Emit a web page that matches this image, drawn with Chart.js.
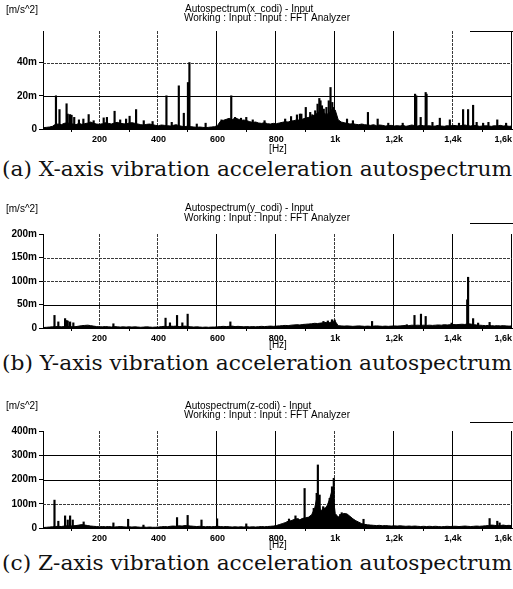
<!DOCTYPE html>
<html>
<head>
<meta charset="utf-8">
<script src="https://cdn.jsdelivr.net/npm/chart.js@4.4.1/dist/chart.umd.min.js"></script>
<style>
  body { margin: 0; background: #fff; width: 513px; height: 589px; position: relative; overflow: hidden; }
  canvas { position: absolute; left: 0; }
  .caption {
    position: absolute; left: 2px; font-family: "DejaVu Serif", serif; font-size: 20px;
    line-height: 20px; white-space: nowrap; transform-origin: 0 50%; color: #111;
  }
</style>
</head>
<body>
<canvas id="chartX" width="513" height="155" style="top:0px"></canvas>
<div class="caption" style="top:159px">(a) X-axis vibration acceleration autospectrum</div>
<canvas id="chartY" width="513" height="155" style="top:195px"></canvas>
<div class="caption" style="top:353px">(b) Y-axis vibration acceleration autospectrum</div>
<canvas id="chartZ" width="513" height="160" style="top:390px"></canvas>
<div class="caption" style="top:553px">(c) Z-axis vibration acceleration autospectrum</div>
<script>
// frequency bins of the noise floor [Hz]
const freqs = [
  10, 20, 30, 40, 50, 60, 70, 80, 90, 100,
  110, 120, 130, 140, 150, 160, 170, 180, 190, 200,
  210, 220, 230, 240, 250, 260, 270, 280, 290, 300,
  310, 320, 330, 340, 350, 360, 370, 380, 390, 400,
  410, 420, 430, 440, 450, 460, 470, 480, 490, 500,
  510, 520, 530, 540, 550, 560, 570, 580, 590, 600,
  610, 620, 630, 640, 650, 660, 670, 680, 690, 700,
  710, 720, 730, 740, 750, 760, 770, 780, 790, 800,
  810, 820, 830, 840, 850, 860, 870, 880, 890, 900,
  910, 920, 930, 940, 950, 960, 970, 980, 990, 1000,
  1010, 1020, 1030, 1040, 1050, 1060, 1070, 1080, 1090, 1100,
  1110, 1120, 1130, 1140, 1150, 1160, 1170, 1180, 1190, 1200,
  1210, 1220, 1230, 1240, 1250, 1260, 1270, 1280, 1290, 1300,
  1310, 1320, 1330, 1340, 1350, 1360, 1370, 1380, 1390, 1400,
  1410, 1420, 1430, 1440, 1450, 1460, 1470, 1480, 1490, 1500,
  1510, 1520, 1530, 1540, 1550, 1560, 1570, 1580, 1590, 1600,
];

// noise floor, m/s^2 x 1e-3
const floorX = [
  0.8, 1.0, 1.2, 1.6, 2.8, 3.0, 2.6, 3.4, 3.8, 3.2,
  3.0, 2.6, 3.4, 2.8, 3.2, 3.6, 4.2, 3.4, 3.0, 2.8,
  3.2, 3.8, 3.4, 3.0, 3.6, 4.0, 3.4, 3.2, 3.0, 3.6,
  3.8, 3.4, 3.0, 2.6, 2.4, 2.8, 3.0, 2.6, 2.2, 2.0,
  2.4, 2.2, 2.0, 1.8, 2.2, 2.6, 2.0, 1.6, 1.4, 1.8,
  1.4, 1.2, 1.0, 1.2, 1.0, 0.8, 1.0, 1.2, 1.4, 2.0,
  4.6, 5.2, 5.8, 6.4, 5.6, 6.6, 6.0, 5.2, 5.4, 5.0,
  4.4, 4.0, 4.2, 3.6, 3.4, 3.8, 3.2, 3.0, 3.4, 3.2,
  3.6, 4.0, 4.4, 4.2, 4.8, 5.0, 5.6, 5.2, 6.0, 6.6,
  7.0, 7.6, 8.4, 9.6, 11.0, 10.0, 8.6, 9.8, 12.0, 11.4,
  5.6, 4.2, 3.8, 3.4, 3.0, 3.2, 2.8, 2.6, 3.0, 2.6,
  2.4, 2.2, 2.6, 2.0, 2.4, 2.2, 1.8, 2.0, 2.2, 1.8,
  2.0, 1.8, 2.2, 1.6, 2.0, 2.4, 2.0, 1.8, 2.2, 2.0,
  1.8, 2.0, 1.6, 1.8, 2.2, 1.8, 1.6, 2.0, 1.8, 2.2,
  2.0, 1.8, 2.2, 2.4, 2.0, 1.8, 2.2, 2.0, 1.6, 1.8,
  2.0, 1.8, 1.6, 2.0, 1.8, 2.2, 1.8, 2.0, 1.6, 1.8,
];
const floorY = [
  1, 1.5, 2, 2.5, 3, 3, 2.5, 3, 3.5, 3,
  2.5, 3, 4, 5, 5.5, 6, 5, 4, 3, 2.5,
  2.5, 3, 2.5, 2, 3, 2.5, 2, 2.5, 2, 2.5,
  2, 2.5, 2, 1.5, 2, 2.5, 2, 1.5, 2, 2,
  3, 3.5, 3, 4, 3.5, 4, 3, 3.5, 4, 3,
  2.5, 2, 2.5, 2, 1.5, 2, 1.5, 2, 2, 2.5,
  3, 3.5, 3, 3.5, 4, 3, 3.5, 3, 2.5, 3,
  2.5, 3, 2.5, 3, 3.5, 3, 3.5, 4, 3.5, 4,
  4.5, 5, 5.5, 5, 6, 6.5, 7, 6.5, 7.5, 8,
  8.5, 9, 10, 9.5, 10.5, 11, 12, 11.5, 13, 14,
  5, 4.5, 4, 4.5, 4, 3.5, 4, 4.5, 4, 3.5,
  4, 3.5, 4, 4.5, 4, 3.5, 4, 3.5, 4, 4.5,
  4, 4.5, 5, 5.5, 5, 6, 5.5, 6, 5.5, 6,
  5.5, 6, 5.5, 6, 6.5, 6, 7, 6.5, 7, 7.5,
  7, 7.5, 8, 7.5, 9, 8.5, 7, 6.5, 6, 5.5,
  5, 5.5, 5, 4.5, 5, 4.5, 5, 4.5, 4, 4.5,
];
const floorZ = [
  2, 3, 4, 5, 6, 7, 6, 8, 9, 8,
  9, 10, 12, 14, 12, 10, 8, 7, 6, 5,
  6, 5, 6, 5, 4, 5, 6, 5, 4, 5,
  4, 5, 4, 3, 4, 3, 4, 3, 3, 4,
  5, 6, 5, 7, 8, 7, 9, 8, 10, 9,
  8, 7, 6, 7, 6, 5, 6, 5, 6, 7,
  6, 5, 6, 5, 4, 5, 4, 5, 4, 5,
  4, 5, 4, 5, 6, 5, 6, 7, 8, 10,
  14, 18, 22, 28, 30, 35, 38, 34, 40, 42,
  45, 55, 80, 140, 70, 80, 85, 115, 160, 60,
  45, 55, 60, 58, 48, 38, 30, 24, 18, 15,
  13, 12, 11, 10, 11, 9, 10, 9, 8, 9,
  8, 9, 8, 7, 8, 7, 8, 7, 6, 7,
  6, 7, 6, 7, 6, 5, 6, 7, 6, 7,
  7, 6, 7, 8, 7, 6, 7, 8, 7, 8,
  9, 10, 12, 11, 9, 10, 12, 10, 11, 9,
];

// discrete spectral lines [Hz] and their levels (m/s^2 x 1e-3)
const peakFreqX = [52, 64, 88, 92, 100, 105, 114, 130, 145, 163, 180, 214, 225, 251, 270, 290, 302, 324, 350, 380,
  427, 445, 469, 486, 500, 505, 530, 560, 614, 647, 660, 680, 698, 720, 760, 830, 850, 870, 880, 885, 900,
  915, 922, 932, 940, 946, 950, 955, 961, 970, 978, 984, 990, 995, 1040, 1060, 1111, 1144, 1180, 1229,
  1271, 1275, 1290, 1307, 1310, 1330, 1355, 1389, 1420, 1434, 1451, 1468, 1480, 1502, 1520, 1550, 1580];
const peakValX = [20, 11.7, 15.2, 9, 8.7, 8.3, 7, 5.5, 6, 8.7, 5, 6.7, 7, 10.7, 5.5, 6, 7.7, 11.7, 5, 4.5,
  20, 4, 26, 9.5, 28, 40, 3, 3.5, 5.5, 20, 7, 6.5, 7, 5.5, 5, 6, 7.5, 8.5, 9, 9, 13,
  10, 8.6, 11, 15, 18.4, 17, 14, 12, 13, 17, 25, 16, 13, 6, 5, 10, 6, 3.5, 3.5,
  21, 20, 7, 22, 21, 4, 6.5, 5.5, 3.5, 11.7, 11.7, 14.3, 4, 3.5, 4, 5.5, 3.5];

const peakFreqY = [47, 60, 83, 88, 92, 100, 111, 247, 424, 439, 463, 481, 499, 644, 960, 975, 989, 998,
  1125, 1243, 1269, 1291, 1307, 1395, 1448, 1451, 1468, 1485, 1524];
const peakValY = [26.8, 13, 20, 16, 14.8, 13, 11, 9, 21, 11, 26.8, 11, 29.5, 13, 14, 15, 17.6, 17,
  14, 7, 26.8, 29.5, 24.6, 10.5, 60, 108, 20, 10.5, 12];

const peakFreqZ = [47, 60, 83, 92, 100, 109, 146, 247, 297, 349, 463, 499, 546, 599, 698, 843, 865, 873, 888,
  896, 927, 937, 941, 947, 952, 959, 964, 972, 981, 989, 995, 1017, 1022, 1096, 1524, 1550, 1558];
const peakValZ = [115, 28, 50, 33, 50, 33, 25, 21, 36, 12, 43, 52, 33, 38, 17, 37, 50, 38, 37,
  163, 81, 143, 260, 136, 67, 88, 60, 88, 122, 170, 205, 56, 63, 36, 39, 28, 21];

// axis ticks
const xTickVals = [8, 200, 400, 600, 800, 1000, 1200, 1400, 1600];
const xTickLabels = ["", "200", "400", "600", "800", "1k", "1,2k", "1,4k", "1,6k"];
const yTicksX = [0, 20, 40];
const yLabelsX = ["0", "20m", "40m"];
const yTicksY = [0, 50, 100, 150, 200];
const yLabelsY = ["0", "50m", "100m", "150m", "200m"];
const yTicksZ = [0, 100, 200, 300, 400];
const yLabelsZ = ["0", "100m", "200m", "300m", "400m"];

// grids, header texts, legend stroke
const decorPlugin = {
  id: "panelDecor",
  beforeDatasetsDraw(chart, args, o) {
    const { ctx, chartArea: a, scales } = chart;
    ctx.save();
    ctx.lineWidth = 1;
    const style = (solid) => {
      ctx.strokeStyle = solid ? "#000" : "#3a3a3a";
      ctx.setLineDash(solid ? [] : [3, 1]);
    };
    o.gridX.forEach(([v, solid]) => {
      const px = Math.round(scales.x.getPixelForValue(v)) - 0.5;
      style(solid);
      ctx.beginPath(); ctx.moveTo(px, a.top); ctx.lineTo(px, a.bottom); ctx.stroke();
    });
    o.gridY.forEach(([v, solid]) => {
      const py = Math.round(scales.y.getPixelForValue(v)) + 0.5;
      style(solid);
      ctx.beginPath(); ctx.moveTo(a.left, py); ctx.lineTo(a.right, py); ctx.stroke();
    });
    ctx.restore();
  },
  afterDraw(chart, args, o) {
    const ctx = chart.ctx;
    ctx.save();
    ctx.fillStyle = "#000";
    ctx.textBaseline = "middle";
    ctx.font = '10px "Liberation Sans"';
    ctx.fillText("[m/s^2]", 6, o.unitY);
    ctx.fillText(o.title, 185, o.line1Y);
    ctx.fillText("Working : Input : Input : FFT Analyzer", 184, o.line2Y);
    ctx.textAlign = "center";
    ctx.fillText("[Hz]", 278, o.hzY);
    ctx.strokeStyle = "#000";
    ctx.lineWidth = 1;
    ctx.beginPath(); ctx.moveTo(470, o.legendY + 0.5); ctx.lineTo(513, o.legendY + 0.5); ctx.stroke();
    ctx.restore();
  },
};

function makeChart(id, floor, peakFreq, peakVal, yMax, yTicks, yLabels, geo, decor) {
  const tickFont = { family: "Liberation Sans", size: 9, weight: "bold" };
  return new Chart(document.getElementById(id), {
    type: "bar",
    data: {
      datasets: [
        {
          type: "bar",
          data: peakFreq.map((f, i) => ({ x: f, y: peakVal[i] })),
          backgroundColor: "#000",
          barThickness: 1.5,
        },
        {
          type: "line",
          data: freqs.map((f, i) => ({ x: f, y: floor[i] })),
          borderColor: "#000",
          backgroundColor: "#000",
          borderWidth: 1,
          pointRadius: 0,
          fill: "origin",
          tension: 0,
        },
      ],
    },
    options: {
      responsive: false,
      animation: false,
      devicePixelRatio: 1,
      layout: { padding: { top: geo.top, right: 1, left: 0, bottom: 0 } },
      plugins: { legend: { display: false }, tooltip: { enabled: false }, panelDecor: decor },
      scales: {
        x: {
          type: "linear",
          min: 8,
          max: 1600,
          offset: false,
          afterBuildTicks: (s) => { s.ticks = xTickVals.map((v) => ({ value: v })); },
          afterFit: (s) => { s.height = geo.axisH; s.paddingLeft = 0; s.paddingRight = 0; },
          ticks: {
            autoSkip: false, maxRotation: 0, align: "inner", padding: 2, color: "#000", font: tickFont,
            callback: (v, i) => xTickLabels[i],
          },
          grid: { drawOnChartArea: false, drawTicks: true, tickLength: 3, color: "#000" },
          border: { display: true, color: "#000", width: 1 },
        },
        y: {
          min: 0,
          max: yMax,
          afterBuildTicks: (s) => { s.ticks = yTicks.map((v) => ({ value: v })); },
          afterFit: (s) => { s.width = 43; s.paddingTop = 0; s.paddingBottom = 0; },
          ticks: {
            padding: 2, color: "#000", font: { family: "Liberation Sans", size: 10, weight: "bold" },
            callback: (v, i) => yLabels[i],
          },
          grid: { drawOnChartArea: false, drawTicks: true, tickLength: 4, color: "#000" },
          border: { display: true, color: "#000", width: 1 },
        },
      },
    },
    plugins: [decorPlugin],
  });
}

makeChart("chartX", floorX, peakFreqX, peakValX, 59, yTicksX, yLabelsX, { top: 31, axisH: 26 }, {
  title: "Autospectrum(x_codi) - Input", unitY: 10, line1Y: 9, line2Y: 18, legendY: 31, hzY: 149,
  gridX: [[200, false], [400, false], [600, true], [800, true], [1000, true], [1200, true], [1400, false], [1600, true]],
  gridY: [[20, true], [40, false]],
});
makeChart("chartY", floorY, peakFreqY, peakValY, 200, yTicksY, yLabelsY, { top: 39, axisH: 22 }, {
  title: "Autospectrum(y_codi) - Input", unitY: 14, line1Y: 13, line2Y: 23, legendY: 28, hzY: 150,
  gridX: [[200, false], [400, false], [600, true], [800, true], [1000, false], [1200, true], [1400, true], [1600, true]],
  gridY: [[50, true], [100, false], [150, false]],
});
makeChart("chartZ", floorZ, peakFreqZ, peakValZ, 400, yTicksZ, yLabelsZ, { top: 41, axisH: 22 }, {
  title: "Autospectrum(z-codi) - Input", unitY: 16, line1Y: 16, line2Y: 25, legendY: 32, hzY: 155,
  gridX: [[200, false], [400, false], [600, true], [800, true], [1000, false], [1200, true], [1400, true], [1600, true]],
  gridY: [[100, false], [200, true], [300, true]],
});

// stretch captions to the full width like the printed figure
function fitCaptions() {
  document.querySelectorAll(".caption").forEach((el) => {
    el.style.transform = "none";
    const w = el.getBoundingClientRect().width;
    el.style.transform = `scaleX(${510 / w})`;
  });
}
fitCaptions();
document.fonts.ready.then(fitCaptions);
</script>
</body>
</html>
